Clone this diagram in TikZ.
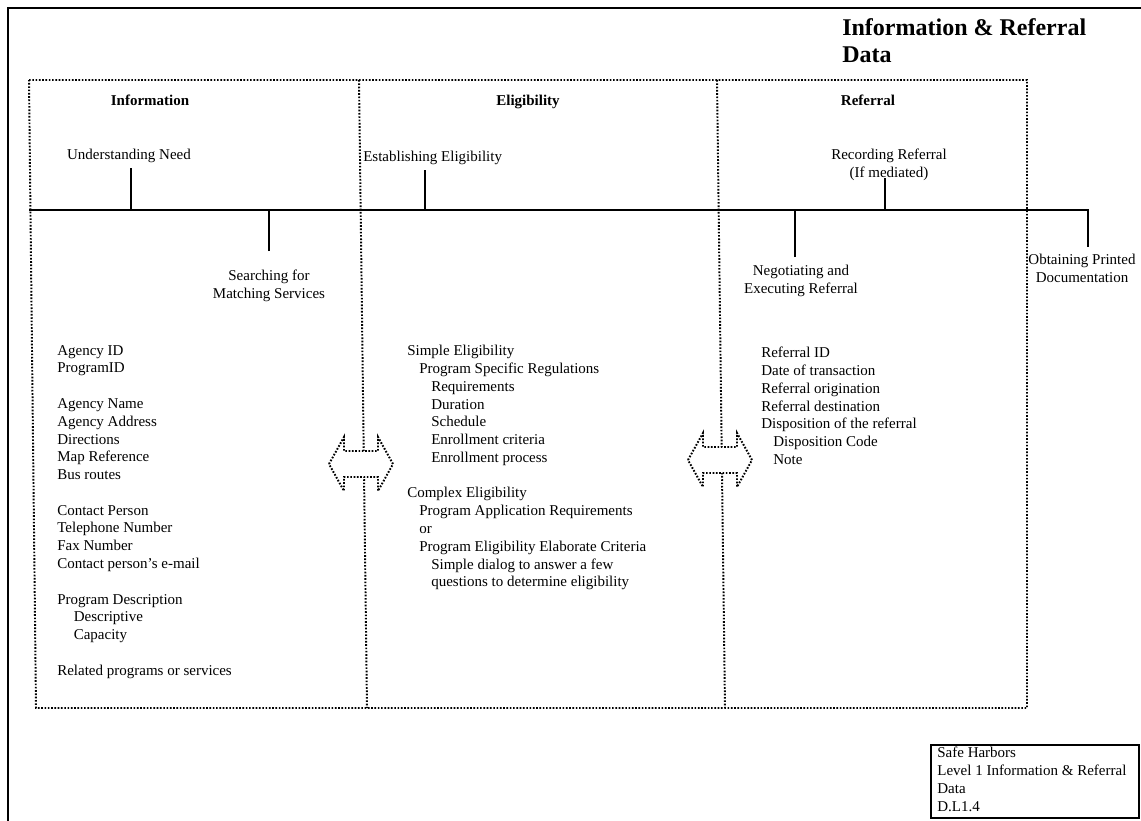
\documentclass[tikz,border=0pt]{standalone}
\usepackage{fontspec}
\setmainfont{Liberation Serif}
\usetikzlibrary{positioning}

\tikzset{
    outer/.style = {line width = 1.6pt},
    frame/.style = {line width = 1.3pt, dash pattern = on 1.1pt off 1.1pt},
    spine/.style = {line width = 1.3pt},
    title/.style = {anchor = north west, inner sep = 0pt, align = left,
        font = \fontsize{16}{18}\selectfont\bfseries},
    head/.style = {anchor = base, inner sep = 0pt, font = \fontsize{10}{12}\selectfont\bfseries},
    lbl/.style = {inner sep = 0pt, align = center, font = \fontsize{10}{11.85}\selectfont},
    block/.style = {anchor = north west, inner sep = 0pt, align = left,
        font = \fontsize{10}{11.85}\selectfont},
    dblarrow/.pic = {
        \draw[frame, fill = white] (-32,0) -- (-17,-27) -- (-17,-13) -- (17,-13) -- (17,-27)
            -- (32,0) -- (17,27) -- (17,13) -- (-17,13) -- (-17,27) -- cycle;
    }
}

\begin{document}
\begin{tikzpicture}[x = 0.6667pt, y = -0.6667pt]
\useasboundingbox (0,0) rectangle (1141,821);
% frame and title
\draw[outer] (8,840) -- (8,8) -- (1160,8);
\node[title] (title) at (842,18) {Information \& Referral\\Data};
% dotted columns
\draw[frame] (29,80) -- (1027,80) -- (1027,708) -- (36,708) -- cycle;
\draw[frame] (359,80) -- (367,708);
\draw[frame] (717,80) -- (725,708);
\node[head] (hinfo) at (150,105) {Information};
\node[head] (helig) at (528,105) {Eligibility};
\node[head] (hrefer) at (868,105) {Referral};
% steps
\node[lbl, anchor = base] (need) at (129,159) {Understanding Need};
\node[lbl, anchor = north] (search) at (269,270) {Searching for\\Matching Services};
\node[lbl, anchor = base west] (establish) at (363,161) {Establishing Eligibility};
\node[lbl, anchor = north] (record) at (889,149) {Recording Referral\\(If mediated)};
\node[lbl, anchor = north] (negotiate) at (801,265) {Negotiating and\\Executing Referral};
\node[lbl, anchor = north] (obtain) at (1082,254) {Obtaining Printed\\Documentation};
% spine and ticks
\coordinate (spineL) at (29,210);
\coordinate (spineR) at (1088,210);
\coordinate (needT) at (131,168);
\coordinate (searchT) at (269,251);
\coordinate (establishT) at (425,170);
\coordinate (recordT) at (885,178);
\coordinate (negotiateT) at (795,257);
\coordinate (obtainT) at (1088,247);
\draw[spine] (spineL) -- (spineR) -- (obtainT);
\draw[spine] (needT) -- (needT |- spineL);
\draw[spine] (searchT) -- (searchT |- spineL);
\draw[spine] (establishT) -- (establishT |- spineL);
\draw[spine] (recordT) -- (recordT |- spineL);
\draw[spine] (negotiateT) -- (negotiateT |- spineL);
% column contents
\node[block] (infolist) at (57,345) {Agency ID\\ProgramID\\[\baselineskip]
    Agency Name\\Agency Address\\Directions\\Map Reference\\Bus routes\\[\baselineskip]
    Contact Person\\Telephone Number\\Fax Number\\Contact person's e-mail\\[\baselineskip]
    Program Description\\\hspace*{11pt}Descriptive\\\hspace*{11pt}Capacity\\[\baselineskip]
    Related programs or services};
\node[block] (eliglist) at (407,345) {Simple Eligibility\\
    \hspace*{8pt}Program Specific Regulations\\
    \hspace*{16pt}Requirements\\\hspace*{16pt}Duration\\\hspace*{16pt}Schedule\\
    \hspace*{16pt}Enrollment criteria\\\hspace*{16pt}Enrollment process\\[\baselineskip]
    Complex Eligibility\\
    \hspace*{8pt}Program Application Requirements\\\hspace*{8pt}or\\
    \hspace*{8pt}Program Eligibility Elaborate Criteria\\
    \hspace*{16pt}Simple dialog to answer a few\\
    \hspace*{16pt}questions to determine eligibility};
\node[block] (referlist) at (761,347) {Referral ID\\Date of transaction\\Referral origination\\
    Referral destination\\Disposition of the referral\\
    \hspace*{8pt}Disposition Code\\\hspace*{8pt}Note};
% arrows between columns
\pic at (361,464) {dblarrow};
\pic at (720,460) {dblarrow};
% stamp
\node[draw, line width = 1.2pt, anchor = north west, inner sep = 0pt,
    minimum width = 138.7pt, minimum height = 48.7pt] (stamp) at (930,744) {};
\node[block] (stamptext) at ([xshift = 4.7pt, yshift = -2pt]stamp.north west)
    {Safe Harbors\\Level 1 Information \& Referral\\Data\\D.L1.4};
\end{tikzpicture}
\end{document}
